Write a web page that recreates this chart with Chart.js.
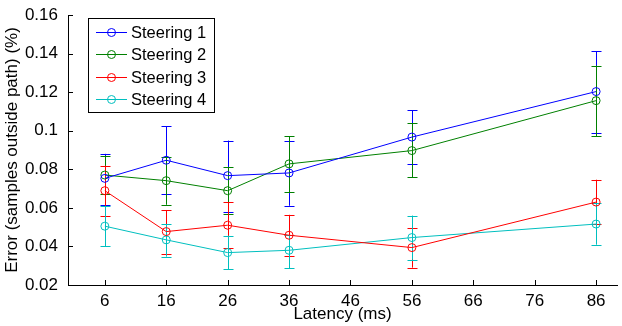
<!DOCTYPE html>
<html>
<head>
<meta charset="utf-8">
<script src="https://cdn.jsdelivr.net/npm/chart.js@4/dist/chart.umd.min.js"></script>
<style>
  html, body { margin: 0; padding: 0; background: #fff; }
  canvas { display: block; }
</style>
</head>
<body>
<canvas id="c" width="622" height="326"></canvas>
<script>
// ---- data ----
const latency = [6, 16, 26, 36, 56, 86];
const xTicks = [6, 16, 26, 36, 46, 56, 66, 76, 86];
const yTicks = [0.02, 0.04, 0.06, 0.08, 0.10, 0.12, 0.14, 0.16];
const seriesNames = ['Steering 1', 'Steering 2', 'Steering 3', 'Steering 4'];

const steering1   = [0.0753, 0.0847, 0.0767, 0.0781, 0.0967, 0.1203];
const steering1Lo = [0.0615, 0.0672, 0.0580, 0.0611, 0.0826, 0.0987];
const steering1Hi = [0.0880, 0.1024, 0.0949, 0.0949, 0.1105, 0.1413];

const steering2   = [0.0770, 0.0741, 0.0689, 0.0828, 0.0897, 0.1156];
const steering2Lo = [0.0672, 0.0616, 0.0570, 0.0682, 0.0760, 0.0972];
const steering2Hi = [0.0870, 0.0865, 0.0810, 0.0972, 0.1040, 0.1338];

const steering3   = [0.0689, 0.0477, 0.0510, 0.0458, 0.0394, 0.0630];
const steering3Lo = [0.0557, 0.0360, 0.0391, 0.0351, 0.0290, 0.0514];
const steering3Hi = [0.0819, 0.0589, 0.0630, 0.0564, 0.0493, 0.0746];

const steering4   = [0.0505, 0.0434, 0.0368, 0.0380, 0.0446, 0.0516];
const steering4Lo = [0.0400, 0.0347, 0.0283, 0.0287, 0.0331, 0.0409];
const steering4Hi = [0.0610, 0.0514, 0.0456, 0.0460, 0.0560, 0.0623];

const colors = ['#0000ff', '#008000', '#ff0000', '#00bfbf'];
const FONT = '"Liberation Sans", Arial, Helvetica, sans-serif';

const values = [steering1, steering2, steering3, steering4];
const lows = [steering1Lo, steering2Lo, steering3Lo, steering4Lo];
const highs = [steering1Hi, steering2Hi, steering3Hi, steering4Hi];

const datasets = values.map((vals, i) => ({
  label: seriesNames[i],
  data: latency.map((x, j) => ({ x: x, y: vals[j] })),
  errLo: lows[i],
  errHi: highs[i],
  borderColor: colors[i],
  borderWidth: 1,
  pointRadius: 4,
  pointBorderWidth: 1,
  pointBorderColor: colors[i],
  pointBackgroundColor: 'rgba(0,0,0,0)',
  pointStyle: 'circle',
  tension: 0,
  fill: false
}));

// error bars drawn through the scales
const errorBars = {
  id: 'errorBars',
  beforeDatasetsDraw(chart) {
    const ctx = chart.ctx;
    const xs = chart.scales.x, ys = chart.scales.y;
    ctx.save();
    ctx.lineWidth = 1;
    chart.data.datasets.forEach((ds) => {
      ctx.strokeStyle = ds.borderColor;
      ds.data.forEach((p, j) => {
        const px = Math.round(xs.getPixelForValue(p.x)) + 0.5;
        const y1 = ys.getPixelForValue(ds.errLo[j]);
        const y2 = ys.getPixelForValue(ds.errHi[j]);
        const cap = 5;
        ctx.beginPath();
        ctx.moveTo(px, y1); ctx.lineTo(px, y2);
        ctx.moveTo(px - cap, Math.round(y1) + 0.5); ctx.lineTo(px + cap, Math.round(y1) + 0.5);
        ctx.moveTo(px - cap, Math.round(y2) + 0.5); ctx.lineTo(px + cap, Math.round(y2) + 0.5);
        ctx.stroke();
      });
    });
    ctx.restore();
  }
};

// inward tick marks (MATLAB style)
const inwardTicks = {
  id: 'inwardTicks',
  afterDraw(chart) {
    const ctx = chart.ctx;
    const xs = chart.scales.x, ys = chart.scales.y;
    const a = chart.chartArea;
    const len = 5;
    ctx.save();
    ctx.strokeStyle = '#000';
    ctx.lineWidth = 1;
    ctx.beginPath();
    xs.ticks.forEach(t => {
      const px = Math.round(xs.getPixelForValue(t.value)) + 0.5;
      ctx.moveTo(px, a.bottom); ctx.lineTo(px, a.bottom - len);
    });
    ys.ticks.forEach(t => {
      const py = Math.round(ys.getPixelForValue(t.value)) + 0.5;
      ctx.moveTo(a.left, py); ctx.lineTo(a.left + len, py);
    });
    ctx.stroke();
    ctx.restore();
  }
};

// boxed legend inside the plot (upper-left)
const boxLegend = {
  id: 'boxLegend',
  afterDraw(chart) {
    const ctx = chart.ctx;
    const x0 = 88.5, y0 = 18.5, w = 126, h = 94;
    ctx.save();
    ctx.fillStyle = '#fff';
    ctx.fillRect(x0, y0, w, h);
    ctx.strokeStyle = '#000';
    ctx.lineWidth = 1;
    ctx.strokeRect(x0, y0, w, h);
    ctx.font = '16.5px ' + FONT;
    ctx.textBaseline = 'middle';
    ctx.textAlign = 'left';
    chart.data.datasets.forEach((ds, i) => {
      const cy = Math.round(32 + i * 22.3) + 0.5;
      ctx.strokeStyle = ds.borderColor;
      ctx.beginPath();
      ctx.moveTo(96, cy); ctx.lineTo(127, cy);
      ctx.stroke();
      ctx.beginPath();
      ctx.arc(111.5, cy, 4, 0, Math.PI * 2);
      ctx.stroke();
      ctx.fillStyle = '#000';
      ctx.fillText(ds.label, 131, cy + 1);
    });
    ctx.restore();
  }
};

new Chart(document.getElementById('c'), {
  type: 'line',
  data: { datasets: datasets },
  plugins: [errorBars, inwardTicks, boxLegend],
  options: {
    responsive: false,
    animation: false,
    devicePixelRatio: 1,
    layout: { padding: { top: 15, right: 0, left: 0, bottom: 0 } },
    plugins: { legend: { display: false }, tooltip: { enabled: false } },
    scales: {
      x: {
        type: 'linear',
        min: 0,
        max: 89.4,
        afterBuildTicks(scale) { scale.ticks = xTicks.map(v => ({ value: v })); },
        afterFit(scale) { scale.height = 41; scale.paddingLeft = 0; scale.paddingRight = 0; },
        grid: { display: false, drawTicks: false },
        border: { display: true, color: '#000', width: 1 },
        ticks: {
          color: '#000',
          font: { family: FONT, size: 17 },
          padding: 6,
          maxRotation: 0,
          autoSkip: false,
          callback: v => String(v)
        },
        title: {
          display: true,
          text: 'Latency (ms)',
          color: '#000',
          font: { family: FONT, size: 17 },
          padding: { top: 0, bottom: 1 }
        }
      },
      y: {
        min: 0.02,
        max: 0.16,
        afterBuildTicks(scale) { scale.ticks = yTicks.map(v => ({ value: v })); },
        afterFit(scale) { scale.width = 68; scale.paddingTop = 0; scale.paddingBottom = 0; },
        grid: { display: false, drawTicks: false },
        border: { display: true, color: '#000', width: 1 },
        ticks: {
          color: '#000',
          font: { family: FONT, size: 17 },
          padding: 10,
          autoSkip: false,
          callback: v => String(Number(v.toFixed(2)))
        },
        title: {
          display: true,
          text: 'Error (samples outside path) (%)',
          color: '#000',
          font: { family: FONT, size: 17 },
          padding: { top: 2, bottom: 0 }
        }
      }
    }
  }
});
</script>
</body>
</html>
